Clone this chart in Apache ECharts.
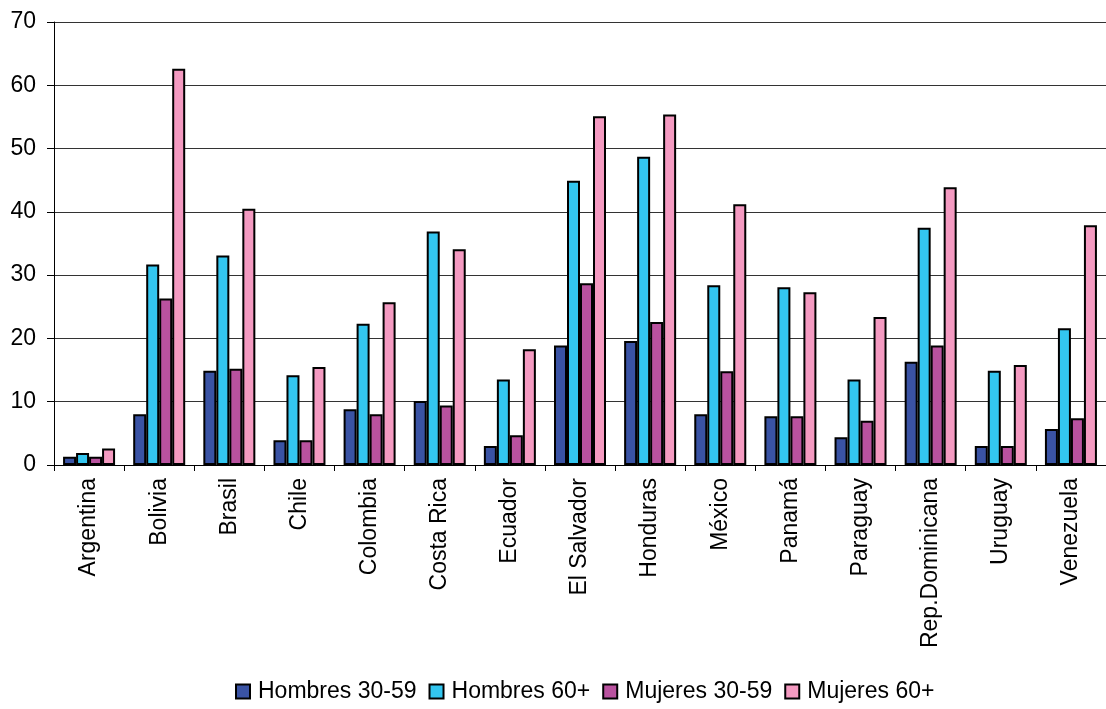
<!DOCTYPE html>
<html>
<head>
<meta charset="utf-8">
<script src="https://cdn.jsdelivr.net/npm/echarts@6/dist/echarts.min.js"></script>
<style>
html,body{margin:0;padding:0;background:#fff;}
#chart{width:1106px;height:709px;}
</style>
</head>
<body>
<div id="chart"></div>
<script>
const categories = ["Argentina","Bolivia","Brasil","Chile","Colombia","Costa Rica","Ecuador","El Salvador","Honduras","México","Panamá","Paraguay","Rep.Dominicana","Uruguay","Venezuela"];
const hombres3059 = [1.3, 8.0, 14.9, 3.9, 8.8, 10.1, 3.0, 18.9, 19.6, 8.0, 7.7, 4.4, 16.3, 3.0, 5.7];
const hombres60 = [1.9, 31.7, 33.1, 14.2, 22.3, 36.9, 13.5, 44.9, 48.7, 28.4, 28.1, 13.5, 37.5, 14.9, 21.6];
const mujeres3059 = [1.3, 26.3, 15.2, 3.9, 8.0, 9.4, 4.7, 28.7, 22.6, 14.8, 7.7, 7.0, 18.9, 3.0, 7.4];
const mujeres60 = [2.6, 62.6, 40.5, 15.5, 25.7, 34.1, 18.3, 55.1, 55.4, 41.2, 27.3, 23.4, 43.9, 15.8, 37.9];
const seriesNames = ["Hombres 30-59","Hombres 60+","Mujeres 30-59","Mujeres 60+"];
const yTicks = [0,10,20,30,40,50,60,70];

const colors = ["#3A53A4","#33C6F0","#B9529F","#F49AC1"];
const font = "'Liberation Sans', Arial, sans-serif";
const data = [hombres3059, hombres60, mujeres3059, mujeres60];

const chart = echarts.init(document.getElementById('chart'), null, {renderer:'canvas'});
chart.setOption({
  animation:false,
  backgroundColor:'#fff',
  textStyle:{fontFamily:font},
  grid:{left:54, right:-11, top:22, bottom:244, containLabel:false},
  legend:{
    data:seriesNames,
    bottom:1,
    left:230,
    itemWidth:14, itemHeight:14, itemGap:12,
    icon:'rect',
    textStyle:{fontSize:23, color:'#000', fontFamily:font, padding:[0,0,0,3]}
  },
  xAxis:{
    type:'category',
    data:categories,
    boundaryGap:true,
    axisLine:{show:true, lineStyle:{color:'#000', width:1}},
    axisTick:{show:true, length:6, lineStyle:{color:'#000'}},
    axisLabel:{rotate:90, fontSize:23, color:'#000', margin:13, fontFamily:font, interval:0}
  },
  yAxis:{
    type:'value',
    min:yTicks[0], max:yTicks[yTicks.length-1], interval:10,
    axisLine:{show:true, lineStyle:{color:'#000', width:1}},
    axisTick:{show:true, inside:false, length:7, lineStyle:{color:'#000'}},
    axisLabel:{fontSize:23, color:'#000', margin:18, fontFamily:font},
    splitLine:{show:true, lineStyle:{color:'#333', width:1}}
  },
  series: seriesNames.map((n,i)=>({
    name:n,
    type:'bar',
    data:data[i],
    barWidth:13,
    barGap:'0%',
    itemStyle:{color:colors[i], borderColor:'#000', borderWidth:2}
  }))
});
</script>
</body>
</html>
